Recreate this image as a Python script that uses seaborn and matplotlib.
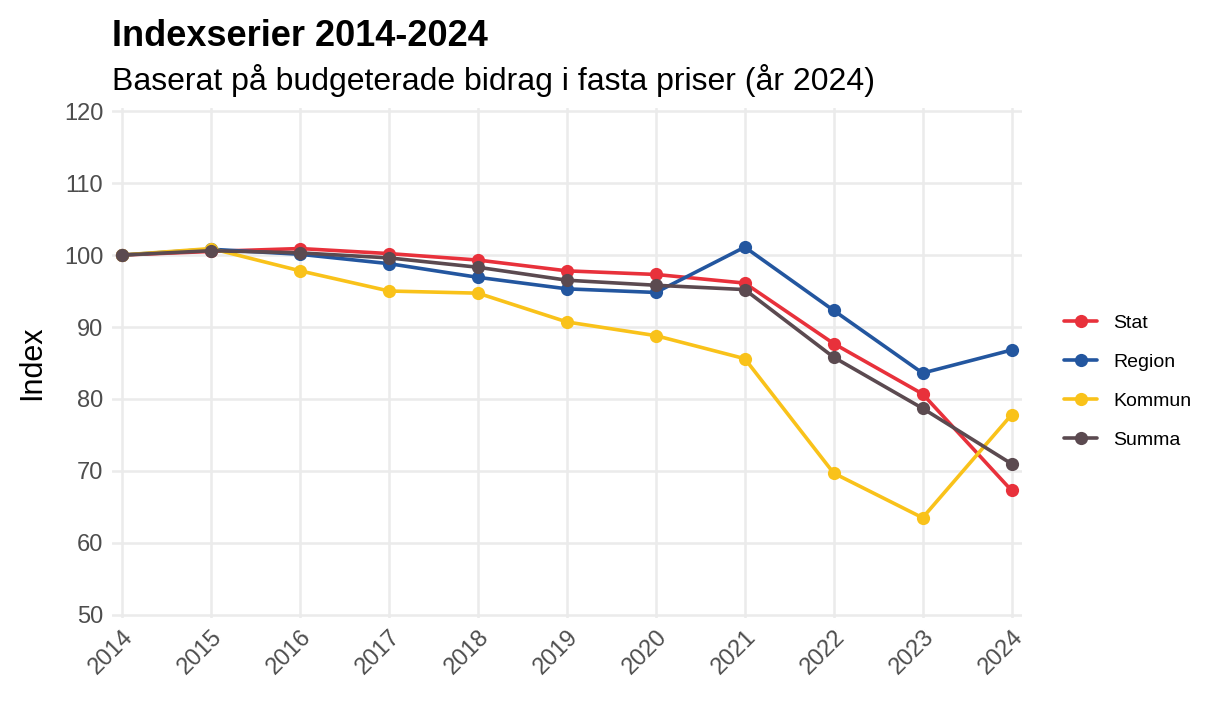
import matplotlib
matplotlib.use("Agg")
import pandas as pd
import matplotlib.pyplot as plt
import seaborn as sns

# Data
years = list(range(2014, 2025))
stat = [100.0, 100.5, 100.9, 100.2, 99.3, 97.8, 97.3, 96.1, 87.7, 80.7, 67.3]
region = [100.0, 100.8, 100.1, 98.8, 96.9, 95.3, 94.8, 101.1, 92.3, 83.6, 86.8]
kommun = [100.0, 100.9, 97.8, 95.0, 94.7, 90.7, 88.8, 85.6, 69.7, 63.5, 77.8]
summa = [100.0, 100.6, 100.3, 99.6, 98.3, 96.5, 95.8, 95.2, 85.8, 78.7, 71.0]
series = ["Stat", "Region", "Kommun", "Summa"]
colors = {"Stat": "#E8313B", "Region": "#23569F", "Kommun": "#F9C21A", "Summa": "#5B4A50"}

# Long format
df = pd.concat([
    pd.DataFrame({"year": years, "value": vals, "serie": name})
    for name, vals in zip(series, [stat, region, kommun, summa])
], ignore_index=True)

sns.set_theme(style="whitegrid")
plt.rcParams["font.family"] = ["Liberation Sans", "DejaVu Sans"]

fig = plt.figure(figsize=(12.14, 7.26), dpi=100)
ax = fig.add_axes([0.092, 0.149, 0.75, 0.702])

sns.lineplot(data=df, x="year", y="value", hue="serie", hue_order=series,
             palette=colors, marker="o", markersize=9.5, markeredgewidth=0,
             linewidth=2.6, ax=ax)

ax.set_xlim(2013.88, 2024.12)
ax.set_ylim(49.6, 120.4)
ax.set_xticks(years)
ax.set_xticklabels([str(y) for y in years], rotation=45, ha="right",
                   rotation_mode="anchor")
ax.set_yticks(range(50, 121, 10))
ax.tick_params(axis="both", labelsize=17, colors="#4D4D4D", length=0, pad=6)
ax.grid(True, color="#EBEBEB", linewidth=1.8)
for s in ax.spines.values():
    s.set_visible(False)
ax.set_xlabel("")
ax.set_ylabel("Index", fontsize=22, color="black", labelpad=12)

# Legend to the right
leg = ax.legend(title=None, loc="center left", bbox_to_anchor=(1.027, 0.463),
                frameon=False, fontsize=14, handlelength=1.7,
                labelspacing=1.1, handletextpad=0.8)
for h in leg.get_lines():
    h.set_linewidth(2.6)
for t in leg.get_texts():
    t.set_color("black")

fig.text(0.092, 0.937, "Indexserier 2014-2024", fontsize=26, fontweight="bold",
         color="black", ha="left", va="baseline")
fig.text(0.092, 0.876, "Baserat på budgeterade bidrag i fasta priser (år 2024)",
         fontsize=23, color="black", ha="left", va="baseline")

fig.savefig("out.png", dpi=100)
